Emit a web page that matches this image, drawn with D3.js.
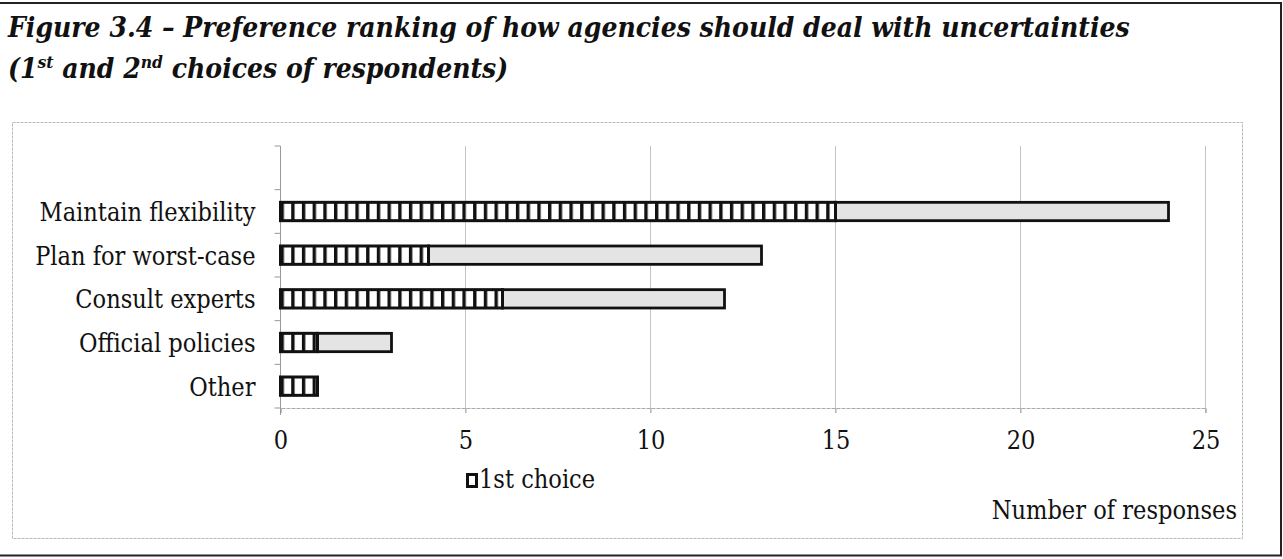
<!DOCTYPE html>
<html>
<head>
<meta charset="utf-8">
<script src="https://cdn.jsdelivr.net/npm/d3@7"></script>
<style>
  html, body { margin: 0; padding: 0; background: #fff; }
  svg { display: block; }
  text { font-stretch: semi-condensed; }
</style>
</head>
<body>
<svg id="chart" width="1283" height="559"></svg>
<script>
// Preference ranking of how agencies should deal with uncertainties
const categories = ["Maintain flexibility", "Plan for worst-case", "Consult experts", "Official policies", "Other"];
const firstChoice = [15, 4, 6, 1, 1];
const secondChoice = [9, 9, 6, 2, 0];
const xTicks = [0, 5, 10, 15, 20, 25];
const legendLabel = "1st choice";
const axisTitle = "Number of responses";

const serif = "'DejaVu Serif', 'Liberation Serif', serif";
const svg = d3.select("#chart");
const defs = svg.append("defs");

// scale a text element's font so that it spans the given width
function fitWidth(sel, target) {
  const node = sel.node();
  const fs = parseFloat(sel.attr("font-size"));
  const w = node.getComputedTextLength();
  sel.attr("font-size", (fs * target / w).toFixed(2));
}

const x = d3.scaleLinear().domain([0, 25]).range([280.5, 1205.5]);
// an empty slot sits above the first category
const y = d3.scaleBand().domain(["__blank__"].concat(categories)).range([146, 408]);
const barH = y.bandwidth() * 0.42;

// vertical-stripe fill used for 1st choice
const stripe = defs.append("pattern")
  .attr("id", "stripes").attr("patternUnits", "userSpaceOnUse")
  .attr("x", x(0)).attr("y", 0).attr("width", 10.7).attr("height", 600);
stripe.append("rect").attr("width", 10.7).attr("height", 600).attr("fill", "#111");
stripe.append("rect").attr("x", 3.4).attr("width", 7.3).attr("height", 600).attr("fill", "#fff");

// speckled light-grey fill used for 2nd choice
const speck = defs.append("filter").attr("id", "speck").attr("x", 0).attr("y", 0).attr("width", 1).attr("height", 1);
speck.append("feTurbulence").attr("type", "fractalNoise").attr("baseFrequency", 0.9).attr("numOctaves", 2).attr("seed", 3).attr("result", "n");
speck.append("feColorMatrix").attr("in", "n").attr("type", "matrix")
  .attr("values", "0 0 0 0 0.78  0 0 0 0 0.78  0 0 0 0 0.78  -1.2 0 0 0 0.75").attr("result", "dots");
speck.append("feFlood").attr("flood-color", "#e4e4e4").attr("result", "bg");
speck.append("feMerge").selectAll("feMergeNode").data(["bg", "dots"]).join("feMergeNode").attr("in", d => d);

// outer figure frame
svg.append("line").attr("x1", 0).attr("x2", 1282).attr("y1", 3).attr("y2", 3).attr("stroke", "#222").attr("stroke-width", 2);
svg.append("line").attr("x1", 1281).attr("x2", 1281).attr("y1", 3).attr("y2", 556).attr("stroke", "#222").attr("stroke-width", 2);
svg.append("line").attr("x1", 0).attr("x2", 1282).attr("y1", 555.5).attr("y2", 555.5).attr("stroke", "#222").attr("stroke-width", 2);

// title
const t1 = svg.append("text").attr("font-family", serif).attr("font-weight", "bold").attr("font-style", "italic")
  .attr("font-size", 26).attr("fill", "#111").attr("x", 8).attr("y", 37)
  .text("Figure 3.4 \u2013 Preference ranking of how agencies should deal with uncertainties");
fitWidth(t1, 1122);
const tfs = parseFloat(t1.attr("font-size"));
const l2 = svg.append("text").attr("font-family", serif).attr("font-weight", "bold").attr("font-style", "italic")
  .attr("font-size", tfs).attr("fill", "#111").attr("x", 8).attr("y", 78);
l2.append("tspan").text("(1");
l2.append("tspan").attr("font-size", tfs * 0.62).attr("dy", -10).text("st");
l2.append("tspan").attr("dy", 10).text(" and 2");
l2.append("tspan").attr("font-size", tfs * 0.62).attr("dy", -10).text("nd");
l2.append("tspan").attr("dy", 10).text(" choices of respondents)");

// chart area border
svg.append("rect").attr("x", 12.5).attr("y", 122.5).attr("width", 1230).attr("height", 416)
  .attr("fill", "none").attr("stroke", "#b8b8b8").attr("stroke-width", 1).attr("stroke-dasharray", "3,1");

// body font size, sized from the longest category label
const probe = svg.append("text").attr("font-family", serif).attr("font-size", 20).text(categories[0]);
fitWidth(probe, 216);
const bfs = parseFloat(probe.attr("font-size"));
probe.remove();

// vertical gridlines
svg.append("g").selectAll("line").data(xTicks.filter(d => d > 0)).join("line")
  .attr("x1", d => x(d)).attr("x2", d => x(d)).attr("y1", 146).attr("y2", 413)
  .attr("stroke", "#c4c4c4").attr("stroke-width", 1);

// x axis
const xAxis = svg.append("g").attr("transform", "translate(0,408)")
  .call(d3.axisBottom(x).tickValues(xTicks).tickSize(5).tickPadding(18).tickFormat(d3.format("d")));
xAxis.select(".domain").attr("stroke", "#aaa").attr("stroke-dasharray", "4,1");
xAxis.selectAll(".tick line").attr("stroke", "#aaa");
xAxis.selectAll("text").attr("font-family", serif).attr("font-size", bfs).attr("fill", "#111");

// y axis
const yAxis = svg.append("g").attr("transform", `translate(${x(0)},0)`)
  .call(d3.axisLeft(y).tickSize(0).tickPadding(25).tickFormat(d => d === "__blank__" ? "" : d));
yAxis.select(".domain").attr("stroke", "#999").attr("d", "M0,146V415");
yAxis.selectAll("text").attr("font-family", serif).attr("font-size", bfs).attr("fill", "#111").attr("dy", "0.38em");
const bounds = y.domain().map(d => y(d)).concat([y.range()[1]]);
yAxis.append("g").selectAll("line").data(bounds).join("line")
  .attr("x1", -6).attr("x2", 0).attr("y1", d => d).attr("y2", d => d).attr("stroke", "#999");

// bars
const rows = categories.map((c, i) => ({ c, a: firstChoice[i], b: secondChoice[i] }));
const barY = d => y(d.c) + (y.bandwidth() - barH) / 2;
const bars = svg.append("g");
bars.selectAll("rect.second").data(rows.filter(d => d.b > 0)).join("rect").attr("class", "second")
  .attr("x", d => x(d.a)).attr("width", d => x(d.a + d.b) - x(d.a))
  .attr("y", barY).attr("height", barH)
  .attr("fill", "#e4e4e4").attr("filter", "url(#speck)");
bars.selectAll("rect.second-edge").data(rows.filter(d => d.b > 0)).join("rect").attr("class", "second-edge")
  .attr("x", d => x(d.a)).attr("width", d => x(d.a + d.b) - x(d.a))
  .attr("y", barY).attr("height", barH)
  .attr("fill", "none").attr("stroke", "#111").attr("stroke-width", 2.8);
bars.selectAll("rect.first").data(rows).join("rect").attr("class", "first")
  .attr("x", x(0)).attr("width", d => x(d.a) - x(0))
  .attr("y", barY).attr("height", barH)
  .attr("fill", "url(#stripes)").attr("stroke", "#111").attr("stroke-width", 3);

// legend
svg.append("rect").attr("x", 467.5).attr("y", 474.5).attr("width", 9).attr("height", 12)
  .attr("fill", "#fff").attr("stroke", "#111").attr("stroke-width", 3);
svg.append("text").attr("x", 479).attr("y", 488).attr("font-family", serif).attr("font-size", bfs)
  .attr("fill", "#111").text(legendLabel);

// axis title
svg.append("text").attr("x", 1237).attr("y", 519).attr("text-anchor", "end")
  .attr("font-family", serif).attr("font-size", bfs).attr("fill", "#111").text(axisTitle);
</script>
</body>
</html>
